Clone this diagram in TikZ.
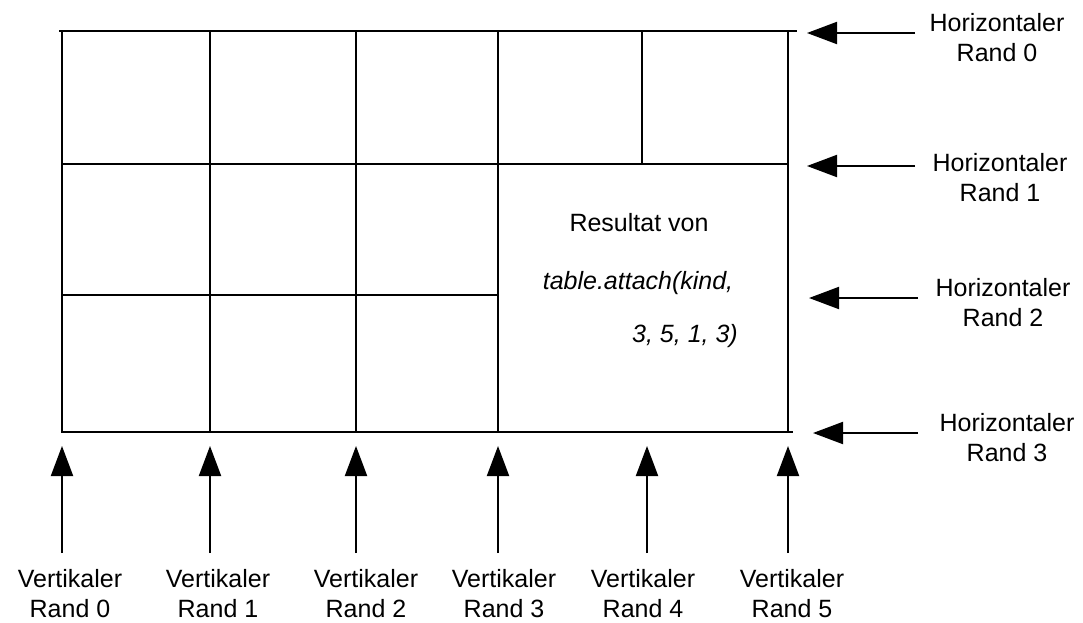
\documentclass[tikz,border=0pt]{standalone}
\usepackage{fontspec}
\setmainfont{Liberation Sans}
\usetikzlibrary{arrows.meta}
\begin{document}
\begin{tikzpicture}[x=1pt,y=-1pt,
  gridline/.style={line width=2pt, line cap=rect},
  ptr/.style={line width=2pt,-{Triangle[length=30pt,width=22pt]}},
  lbl/.style={font=\fontsize{25}{30}\selectfont, align=center, inner sep=0pt},
  celltext/.style={font=\fontsize{25}{30}\selectfont, inner sep=0pt},
]
\useasboundingbox (0,0) rectangle (1083,623);
% horizontal lines
\draw[gridline] (60,31) -- (796,31);
\draw[gridline] (62,164) -- (788,164);
\draw[gridline] (62,295) -- (498,295);
\draw[gridline] (62,432) -- (792,432);
% vertical lines
\draw[gridline] (62,31) -- (62,432);
\draw[gridline] (210,31) -- (210,432);
\draw[gridline] (356,31) -- (356,432);
\draw[gridline] (498,31) -- (498,432);
\draw[gridline] (642,31) -- (642,164);
\draw[gridline] (788,31) -- (788,432);
% cell text
\node[celltext] (res) at (639,223) {Resultat von};
\node[celltext] (call1) at (638,283) {\itshape table.attach(kind,};
\node[celltext, anchor=east] (call2) at (738,336) {\itshape 3, 5, 1, 3)};
% horizontal labels and arrows
\node[lbl] (h0) at (997,38) {Horizontaler\\Rand 0};
\node[lbl] (h1) at (1000,178) {Horizontaler\\Rand 1};
\node[lbl] (h2) at (1003,303) {Horizontaler\\Rand 2};
\node[lbl] (h3) at (1007,438) {Horizontaler\\Rand 3};
\coordinate (ht0) at (915,33);  \coordinate (hh0) at (807,33);
\coordinate (ht1) at (915,166); \coordinate (hh1) at (807,166);
\coordinate (ht2) at (918,298); \coordinate (hh2) at (809,298);
\coordinate (ht3) at (918,433); \coordinate (hh3) at (813,433);
\draw[ptr] (ht0) -- (hh0);
\draw[ptr] (ht1) -- (hh1);
\draw[ptr] (ht2) -- (hh2);
\draw[ptr] (ht3) -- (hh3);
% vertical labels and arrows
\node[lbl] (v0) at (70,594) {Vertikaler\\Rand 0};
\node[lbl] (v1) at (218,594) {Vertikaler\\Rand 1};
\node[lbl] (v2) at (366,594) {Vertikaler\\Rand 2};
\node[lbl] (v3) at (504,594) {Vertikaler\\Rand 3};
\node[lbl] (v4) at (643,594) {Vertikaler\\Rand 4};
\node[lbl] (v5) at (792,594) {Vertikaler\\Rand 5};
\foreach \i/\x in {0/62,1/210,2/356,3/498,4/647,5/788}{
  \coordinate (vt\i) at (\x,553);
  \coordinate (vh\i) at (\x,446);
  \draw[ptr] (vt\i) -- (vh\i);
}
\end{tikzpicture}
\end{document}
